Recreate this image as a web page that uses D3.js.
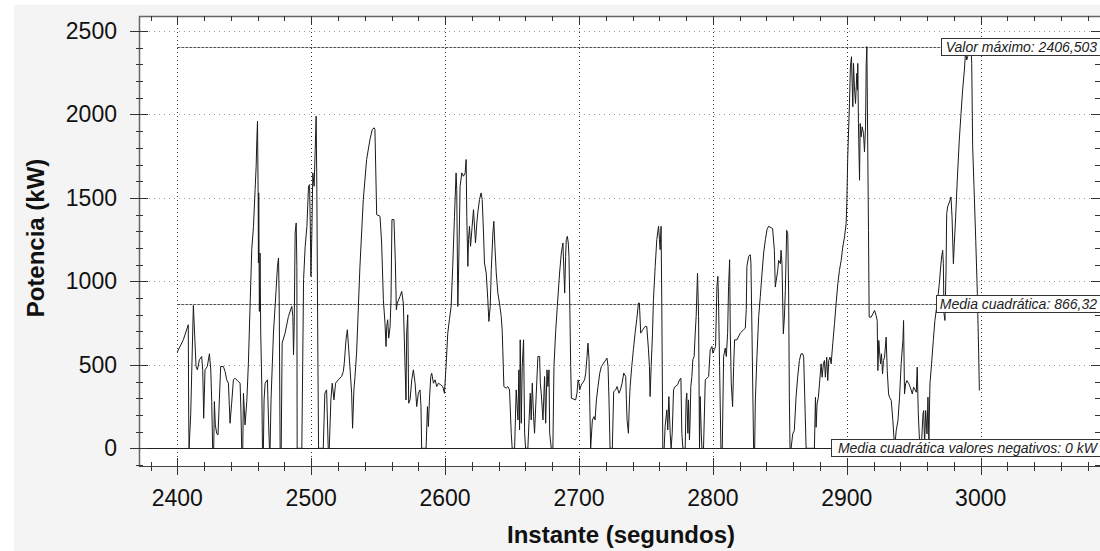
<!DOCTYPE html>
<html><head><meta charset="utf-8">
<script src="https://cdn.jsdelivr.net/npm/d3@7"></script>
<style>
html,body{margin:0;padding:0;background:#fff;}
svg{display:block;font-family:Arial,"Liberation Sans",sans-serif;}
</style></head><body>
<svg id="chart" width="1100" height="551"></svg>
<script>
// ---- data ----
const seconds = [
2400,2404.5,2408.2,2408.5,2408.8,2410,2412,2414,2415,2416.5,2418.2,2419,2419.5,2419.7,2420.7,2422.4,2424,2425,2425.7,2426.4,2427.2,2427.7,2428.4,2429.4,2430.4,2431.4,2432.4,2434.4,2435.7,2436.9,2438.2,2439.4,2440.6,2441.9,2443.1,2445.6,2446.9,2447.6,2448.1,2448.9,2449.4,2450.6,2451.9,2453.1,2454.4,2455.6,2456.9,2458.1,2458.9,2459.4,2459.9,2460.4,2460.6,2460.8,2461.3,2461.8,2462.3,2463.1,2463.6,2464.3,2464.8,2465.6,2467.3,2468.1,2468.8,2469.3,2470,2471.8,2473.8,2474.8,2475.6,2476.1,2476.8,2477.6,2478.3,2480.5,2483,2485.5,2486.3,2486.8,2487.3,2488,2488.8,2489.3,2489.5,2493,2494.3,2495.5,2496.8,2498,2498.8,2499.3,2499.8,2500.5,2501.2,2502.2,2503,2503.7,2504.2,2505,2505.5,
2506.5,2509,2510.2,2511.5,2512.7,2513.5,2514.7,2515.7,2517,2518.2,2520.2,2522.7,2524,2524.7,2526,2527,2527.7,2528.9,2530.2,2530.9,2531.9,2532.7,2533.9,2536.4,2538.9,2541.4,2543.9,2545.6,2547.1,2547.6,2548.9,2551.4,2552.6,2553.9,2555.1,2555.9,2556.4,2557.1,2557.9,2558.9,2559.6,2560.3,2561.8,2562.8,2563.6,2564.3,2566.3,2567.6,2568.8,2570.1,2570.8,2571.3,2572.1,2572.8,2573.8,2575.1,2576.3,2577.6,2578.8,2580,2581.3,2582,2582.5,2585.8,2586.8,2587.5,2588.3,2589.3,2590,2591.3,2592.5,2593.8,2595,2596.8,2598.3,2599.5,2600.7,2602,2603.2,2604.5,2605.7,2607,2608.2,2608.7,2609.5,2610,2611.2,2612.5,2613.7,2615,2615.7,2616.2,2617,2617.5,
2618.2,2619,2620.2,2621.2,2622.7,2623.7,2624.4,2625.7,2626.9,2627.7,2628.7,2629.4,2630.7,2631.9,2632.7,2633.7,2634.5,2635.7,2636.4,2637.2,2638.2,2639.4,2640.6,2641.9,2642.6,2643.1,2643.9,2645.6,2646.9,2648.1,2649.4,2650.1,2651.9,2653.1,2654.4,2655.1,2655.6,2656.1,2656.9,2657.6,2658.6,2659.4,2660.1,2661.8,2663.6,2664.3,2665.1,2666.1,2666.8,2668.1,2669.3,2670.6,2671.1,2671.8,2673.1,2674.3,2675.1,2676.1,2676.8,2677.6,2678.1,2679.3,2680.5,2681.3,2682.5,2683.8,2685.5,2686.8,2688,2689.3,2690,2690.5,2691.3,2692,2692.5,2693,2693.8,2694.3,2697.5,2698.5,2699.3,2700,2700.5,2701.7,2704.2,2705,2706,2706.7,2707.5,2708,2708.7,2710,2711.2,2712,2713,2714.2,2715.5,2716.7,2719.2,2720.9,2721.7,2722.4,2723.2,2724.9,2725.9,2727.4,2728.4,2729.9,2730.9,2732.2,2733.4,2734.9,2735.4,2735.9,2736.9,
2737.7,2738.2,2739.4,2740.6,2741.9,2743.1,2744.4,2745.1,2746.1,2747.6,2749.4,2750.6,2751.9,2752.6,2753.1,2753.9,2754.9,2755.6,2756.9,2758.1,2759.4,2760.1,2760.6,2761.3,2761.8,2762.6,2763.6,2764.3,2765.6,2766.3,2767.1,2768.1,2768.8,2769.6,2770.6,2771.8,2773.6,2775.1,2776.1,2776.8,2777.6,2779.3,2780,2780.5,2781.3,2781.8,2782.5,2783,2783.5,2784.3,2785,2786,2786.8,2787.5,2788.5,2789.3,2790,2790.5,2791.3,2791.8,2793,2794.3,2796.8,2798,2799.3,2800,2801,2802,2803,2803.7,2804.2,2805,2806,2807,2808,2809.2,2810,2811,2811.7,2812.5,2813,2813.7,2814.7,2815.5,2816.2,2818,2820.4,2822.9,2824.2,2824.9,2825.4,2826.7,2827.9,2828.4,2829.2,2829.9,2830.4,2831.2,2831.7,2832.9,2834.2,2835.4,2836.7,2837.9,2839.2,2840.4,2841.6,
2844.6,2845.9,2846.6,2848.4,2849.1,2850.4,2850.9,2851.6,2852.6,2853.4,2854.1,2855.1,2855.9,2856.6,2857.1,2857.6,2858.4,2859.6,2860.8,2862.1,2863.3,2864.6,2865.8,2867.1,2867.8,2868.6,2869.6,2875.8,2876.6,2877.1,2877.8,2878.8,2879.6,2880.8,2881.6,2882.5,2883.3,2884,2885,2885.8,2886.5,2887.5,2888.3,2889.5,2890.8,2892,2893.3,2894.5,2895.8,2897,2898.3,2899.5,2900,2900.7,2902,2902.7,2903.5,2904,2904.5,2905,2905.7,2906.5,2907.5,2908,2908.2,2908.7,2909.5,2910,2910.7,2911.5,2912.5,2913.2,2914,2914.5,2915,2915.7,2916.2,2916.7,2918.2,2919.5,2920.7,2921.9,2922.7,2923.2,2923.9,2924.4,2925.2,2925.9,2926.7,2927.4,2928.2,2929.4,2930.2,2931.2,2931.9,2933.2,2934.4,2935.7,2936.9,2938.2,2939.4,2940.6,2941.9,2942.4,2943.1,2943.9,2944.9,2946.4,2947.4,2948.9,2949.9,2951.9,2952.6,2953.4,2954.4,2955.6,2956.9,2957.4,2958.1,2958.9,2959.9,2960.6,2961.3,
2962.1,2963.3,2964.6,2965.8,2967.1,2968.3,2969.1,2970.1,2970.8,2971.6,2972.1,2972.6,2973.3,2974.1,2974.6,2975.3,2977.1,2977.8,2978.6,2979.6,2980.3,2981.3,2982.5,2984,2985.3,2986.5,2987.8,2988.8,2989.5,2990.3,2992,2992.8,2993.3,2994,2995,2996.3,2997.5,2998.5,2999
];
const powerKW = [
576,650,740,200,0,200,856,490,470,530,550,466,270,180,470,490,566,470,280,0,0,280,140,90,80,290,490,490,460,410,390,150,270,410,420,400,390,200,0,0,330,140,280,510,870,1190,1330,1550,1690,1850,1960,1490,1110,1530,820,1170,690,380,0,0,290,390,410,170,0,0,290,690,950,1090,1140,890,0,0,630,690,790,850,790,560,730,1290,1350,1090,0,0,1010,1210,1330,1570,1580,1350,1030,1290,1650,1570,1790,1990,1570,530,0,
0,0,330,350,0,0,290,390,290,390,410,430,460,510,650,710,630,490,330,120,350,430,570,1090,1490,1730,1850,1910,1920,1910,1400,1390,1230,890,750,610,730,770,660,730,890,1370,1370,1130,830,870,910,940,870,490,290,690,800,270,290,410,470,390,250,330,350,250,0,0,250,130,290,430,450,390,410,370,390,380,370,330,490,690,770,850,1090,1390,1650,1550,850,1030,1570,1650,1630,1650,1730,1390,1090,1250,
1330,1210,1330,1430,1230,1350,1410,1490,1530,1490,1290,1110,1050,890,760,850,1070,1290,1360,1210,1050,930,870,790,710,590,370,360,370,350,90,0,0,350,170,470,110,650,150,490,650,90,0,0,330,170,390,190,90,330,550,550,390,330,170,430,150,470,370,470,90,0,0,490,690,850,1050,1170,1230,930,1150,1250,1270,1230,1150,930,490,300,290,330,410,390,350,380,410,450,550,630,530,290,0,170,190,170,290,370,450,490,520,540,490,290,0,0,340,350,370,330,350,390,450,430,290,170,90,
290,370,490,590,690,770,870,870,690,710,730,730,590,490,310,490,690,890,1090,1250,1330,1250,1190,1330,890,0,0,130,230,110,310,90,0,90,350,370,380,410,420,90,0,0,290,330,90,290,50,170,370,430,530,550,690,790,1050,790,0,310,90,0,0,410,430,590,610,570,590,610,970,1030,890,490,0,0,550,600,550,690,970,1130,690,390,250,490,650,650,690,710,720,830,1090,1150,1160,1110,690,290,0,0,290,550,790,910,1050,1170,1250,1310,1330,
1316,1186,966,1066,1126,1106,1186,1106,686,786,946,1306,1286,906,306,0,0,86,106,306,426,526,566,566,546,306,0,0,306,126,266,306,386,506,426,506,526,426,546,406,526,546,506,626,746,866,986,1066,1126,1206,1266,1346,1466,1746,2066,2286,2346,2186,2046,2306,2166,2066,2246,2146,2306,1946,1606,1946,1866,1926,1886,1776,1926,2306,2406.5,1746,1306,786,786,806,826,796,766,466,646,586,506,566,446,526,546,666,466,326,306,286,166,0,106,166,306,506,646,766,326,386,406,386,366,326,366,336,486,206,26,0,206,226,26,226,86,306,46,
386,506,646,766,846,926,986,1086,1146,1186,1106,806,766,1066,1406,1446,1486,1506,1386,1106,1226,1386,1606,1846,2006,2146,2266,2386,2326,2346,2386,2400,2306,1806,1566,1246,926,566,346
];
const xTickValues = [2400, 2500, 2600, 2700, 2800, 2900, 3000];
const yTickValues = [0, 500, 1000, 1500, 2000, 2500];
const refValues = [2406.503, 866.32, 0];
const refLabels = ["Valor máximo: 2406,503", "Media cuadrática: 866,32", "Media cuadrática valores negativos: 0 kW"];
const xTitle = "Instante (segundos)";
const yTitle = "Potencia (kW)";

// ---- layout ----
const P = {left: 139, top: 16, right: 1100, bottom: 466};
const svg = d3.select("#chart");
const x = d3.scaleLinear().domain([2400, 3000]).range([177.3, 980.7]);
const y = d3.scaleLinear().domain([0, 2500]).range([448.3, 31]);

svg.append("rect").attr("width", 1100).attr("height", 551).attr("fill", "#fff");
svg.append("rect").attr("x", 14).attr("y", 5).attr("width", 1086).attr("height", 546).attr("fill", "#f4f4f4");
svg.append("rect").attr("x", P.left).attr("y", P.top).attr("width", P.right - P.left + 5).attr("height", P.bottom - P.top).attr("fill", "#fff");

svg.append("clipPath").attr("id", "clip").append("rect")
  .attr("x", P.left).attr("y", P.top).attr("width", P.right - P.left + 5).attr("height", P.bottom - P.top);

// grid
const grid = svg.append("g");
grid.selectAll(".hg").data(yTickValues.filter(v => v !== 0)).join("line")
  .attr("x1", P.left).attr("x2", P.right).attr("y1", d => Math.round(y(d)) + 0.5).attr("y2", d => Math.round(y(d)) + 0.5)
  .attr("stroke", "#9a9a9a").attr("stroke-dasharray", "1,4");
grid.selectAll(".vg").data(xTickValues).join("line")
  .attr("y1", P.top).attr("y2", P.bottom).attr("x1", d => Math.round(x(d)) + 0.5).attr("x2", d => Math.round(x(d)) + 0.5)
  .attr("stroke", "#333").attr("stroke-dasharray", "1,3");

// reference lines
const refStarts = [x(2400), x(2400), P.left];
const boxLefts = [941, 936, 831];
svg.append("g").selectAll("line").data(refValues).join("line")
  .attr("x1", (d, i) => refStarts[i]).attr("x2", (d, i) => boxLefts[i])
  .attr("y1", d => Math.round(y(d)) + 0.5).attr("y2", d => Math.round(y(d)) + 0.5)
  .attr("stroke", (d, i) => i === 2 ? "#222" : "#555")
  .attr("stroke-dasharray", (d, i) => i === 2 ? null : "3,1");

// data line
const pts = seconds.map((s, i) => [s, powerKW[i]]);
svg.append("path").datum(pts)
  .attr("clip-path", "url(#clip)")
  .attr("fill", "none").attr("stroke", "#1a1a1a").attr("stroke-width", 1)
  .attr("d", d3.line().x(d => x(d[0])).y(d => y(d[1])));

// frame
const frame = svg.append("g");
frame.append("line").attr("x1", P.left).attr("x2", P.right + 2).attr("y1", P.top + 0.5).attr("y2", P.top + 0.5).attr("stroke", "#666").attr("stroke-width", 1.5);
frame.append("line").attr("x1", P.left + 0.5).attr("x2", P.left + 0.5).attr("y1", P.top).attr("y2", P.bottom + 1).attr("stroke", "#666").attr("stroke-width", 1.5);
frame.append("line").attr("x1", P.left).attr("x2", P.right + 2).attr("y1", P.bottom + 0.5).attr("y2", P.bottom + 0.5).attr("stroke", "#444").attr("stroke-width", 1.2);

// ticks
const xMinor = d3.range(2380, 3100, 20).filter(v => x(v) > P.left + 2 && x(v) < P.right);
const yMinor = d3.range(-100, 2600, 100).filter(v => y(v) > P.top + 2 && y(v) < P.bottom);
const tk = svg.append("g").attr("stroke", "#333").attr("stroke-width", 1);
// bottom
tk.selectAll(".bt").data(xMinor).join("line")
  .attr("x1", d => Math.round(x(d)) + 0.5).attr("x2", d => Math.round(x(d)) + 0.5)
  .attr("y1", d => xTickValues.includes(d) ? P.bottom - 8 : P.bottom - 4)
  .attr("y2", d => xTickValues.includes(d) ? P.bottom + 9 : P.bottom + 5);
// top
tk.selectAll(".tt").data(xMinor).join("line")
  .attr("x1", d => Math.round(x(d)) + 0.5).attr("x2", d => Math.round(x(d)) + 0.5)
  .attr("y1", P.top).attr("y2", d => xTickValues.includes(d) ? P.top + 9 : P.top + 5);
// left
tk.selectAll(".lt").data(yMinor).join("line")
  .attr("y1", d => Math.round(y(d)) + 0.5).attr("y2", d => Math.round(y(d)) + 0.5)
  .attr("x1", d => yTickValues.includes(d) ? P.left - 9 : P.left - 3)
  .attr("x2", d => yTickValues.includes(d) ? P.left + 9 : P.left + 4);
// right
tk.selectAll(".rt").data(yMinor).join("line")
  .attr("y1", d => Math.round(y(d)) + 0.5).attr("y2", d => Math.round(y(d)) + 0.5)
  .attr("x1", d => yTickValues.includes(d) ? P.right - 9 : P.right - 5)
  .attr("x2", P.right + 2);

// tick labels
svg.append("g").selectAll("text").data(xTickValues).join("text")
  .attr("x", d => x(d)).attr("y", 506).attr("text-anchor", "middle")
  .attr("font-size", 23).attr("fill", "#111").text(d => d);
svg.append("g").selectAll("text").data(yTickValues).join("text")
  .attr("x", 117).attr("y", d => y(d) + 8).attr("text-anchor", "end")
  .attr("font-size", 23).attr("fill", "#111").text(d => d);

// titles
svg.append("text").attr("x", 621).attr("y", 543).attr("text-anchor", "middle")
  .attr("font-size", 24).attr("font-weight", "bold").attr("fill", "#111").text(xTitle);
svg.append("text").attr("transform", "translate(44,238) rotate(-90)").attr("text-anchor", "middle")
  .attr("font-size", 24).attr("font-weight", "bold").attr("fill", "#111").text(yTitle);

// reference labels
const lab = svg.append("g").selectAll("g").data(refValues).join("g");
lab.append("rect")
  .attr("x", (d, i) => boxLefts[i] + 0.5).attr("y", d => Math.round(y(d)) - 8.5)
  .attr("width", (d, i) => 1110 - boxLefts[i]).attr("height", 17)
  .attr("fill", "#fff").attr("stroke", "#333");
lab.append("text")
  .attr("x", 1097).attr("y", d => Math.round(y(d)) + 5).attr("text-anchor", "end")
  .attr("font-size", 14).attr("font-style", "italic").attr("fill", "#222")
  .text((d, i) => refLabels[i]);
</script>
</body></html>
